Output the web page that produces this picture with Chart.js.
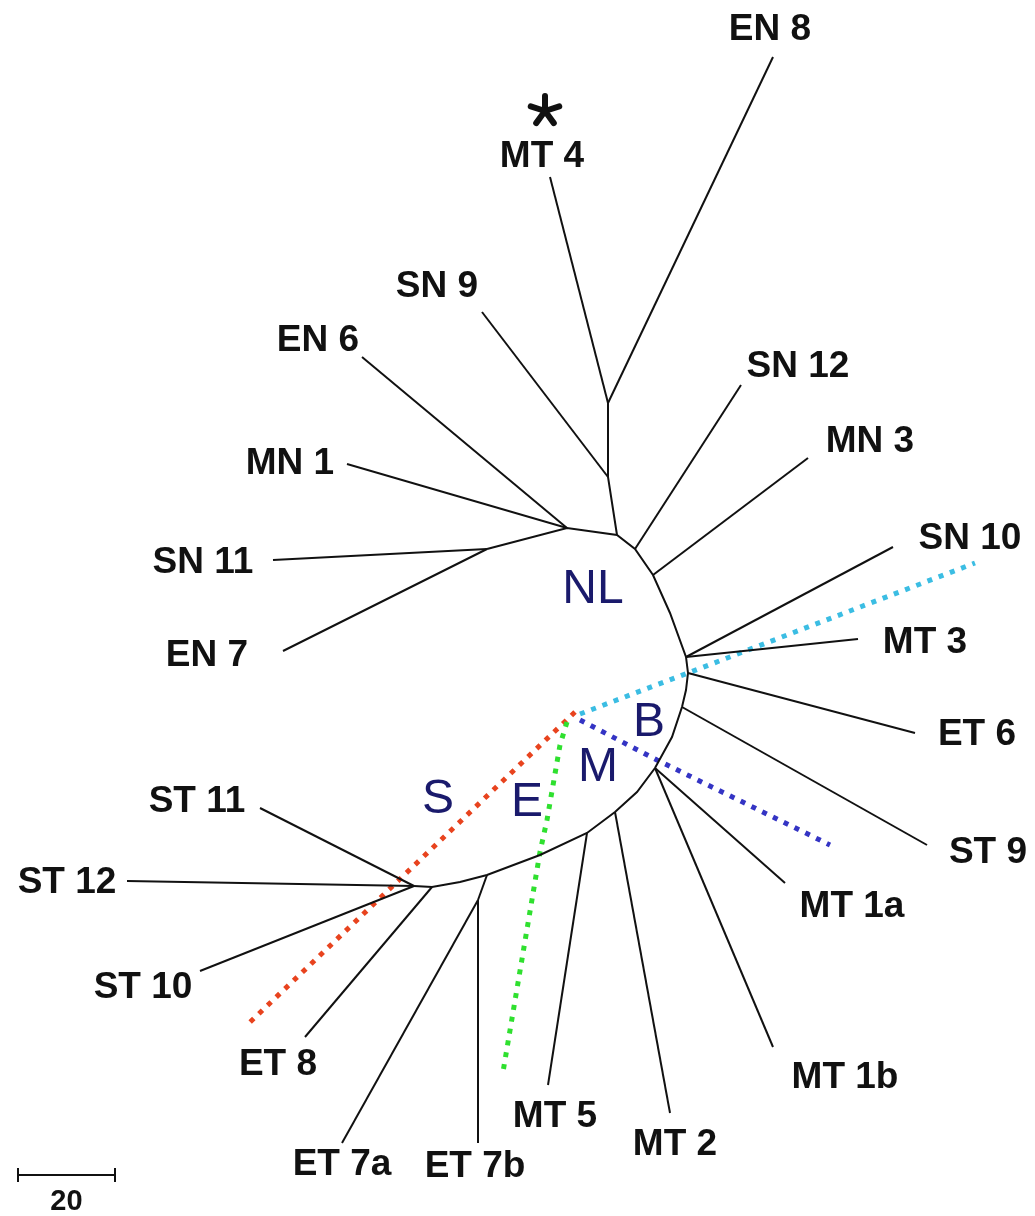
<!DOCTYPE html>
<html>
<head>
<meta charset="utf-8">
<script src="https://cdn.jsdelivr.net/npm/chart.js@4.4.0/dist/chart.umd.min.js"></script>
<style>
  html, body { margin: 0; padding: 0; background: #fff; }
  #wrap { width: 1035px; height: 1216px; }
</style>
</head>
<body>
<div id="wrap"><canvas id="tree" width="1035" height="1216"></canvas></div>
<script>
// tree layout (units of the original drawing, y grows downwards)
const innerNames = ['top', 'sn9n', 'a', 'l1', 'l2', 'sn12n', 'mn3n', 'b1', 'b2', 'b3', 'm1', 'm2', 'm3', 'e1', 'e2', 's1', 's2']
const innerX     = [608,   608,    617, 567,  487,  635,     653,    686,  688,  682,  655,  615,  587,  487,  478,  432,  414]
const innerY     = [403,   477,    535, 528,  549,  549,     575,    657,  673,  707,  768,  812,  833,  875,  900,  887,  886]

const leafNames  = ['EN 8', 'MT 4', 'SN 9', 'EN 6', 'MN 1', 'SN 11', 'EN 7', 'SN 12', 'MN 3', 'SN 10', 'MT 3', 'ET 6',
                    'ST 9', 'MT 1a', 'MT 1b', 'MT 2', 'MT 5', 'ET 7b', 'ET 7a', 'ET 8', 'ST 10', 'ST 12', 'ST 11']
const leafX      = [773,  550,  482,  362,  347,  273,  283,  741,  808,  893,  858,  915,
                    927,  785,  773,  670,  548,  478,  342,  305,  200,  127,  260]
const leafY      = [57,   177,  312,  357,  464,  560,  651,  385,  458,  547,  639,  733,
                    845,  883,  1047, 1113, 1085, 1143, 1143, 1037, 971,  881,  808]
const leafParent = ['top', 'top', 'sn9n', 'l1', 'l1', 'l2', 'l2', 'sn12n', 'mn3n', 'b1', 'b1', 'b2',
                    'b3', 'm1', 'm1', 'm2', 'm3', 'e2', 'e2', 's1', 's2', 's2', 's2']

// stem and curved backbone of the tree
const stemX = [617, 608, 608]
const stemY = [535, 477, 403]
const backboneX = [487, 567, 617, 635, 653, 670, 686, 688, 686, 682, 672, 655, 637, 615, 587, 540, 487, 460, 432, 414]
const backboneY = [549, 528, 535, 549, 575, 613, 657, 673, 690, 707, 737, 768, 792, 812, 833, 855, 875, 882, 887, 886]
const e1e2X = [487, 478]
const e1e2Y = [875, 900]

// clade separation lines
const cladeColors = ['#3bbde3', '#3434c4', '#2fe02f', '#e8431e']
const cyanX  = [580, 688, 975]
const cyanY  = [714, 673, 563]
const blueX  = [580, 657, 830]
const blueY  = [720, 760, 845]
const greenX = [567, 560, 547, 540, 503]
const greenY = [722, 745, 820, 852, 1072]
const redX   = [575, 247]
const redY   = [712, 1025]

const cladeNames = ['NL', 'B', 'M', 'E', 'S']
const cladeX     = [593, 649, 598, 527, 438]
const cladeY     = [590, 723, 768, 803, 800]

// scale bar: 20 units
const barX = [18, 115]
const barY = [1175, 1175]

// label placement (offset from tip, drawing units)
const labelDX = [-3, -8, -45, -44, -57, -70, -76, 57, 62, 77, 67, 62, 61, 67, 72, 5, 7, -3, 0, -27, -57, -60, -63]
const labelDY = [-27, -20, -25, -16, 0, 3, 5, -18, -16, -8, 4, 2, 8, 24, 31, 32, 32, 24, 22, 28, 17, 2, -6]

const nodeAt = {}
innerNames.forEach((n, i) => { nodeAt[n] = { x: innerX[i], y: innerY[i] } })

const toPts = (xs, ys) => xs.map((x, i) => ({ x, y: ys[i] }))

const lineDs = (data, color, width, dash) => ({
  data,
  showLine: true,
  borderColor: color,
  borderWidth: width,
  borderDash: dash || [],
  borderCapStyle: 'butt',
  pointRadius: 0,
  fill: false,
  tension: 0,
})

const datasets = []
datasets.push(lineDs(toPts(backboneX, backboneY), '#111', 2))
datasets.push(lineDs(toPts(stemX, stemY), '#111', 2))
datasets.push(lineDs(toPts(e1e2X, e1e2Y), '#111', 2))
leafNames.forEach((n, i) => {
  const p = nodeAt[leafParent[i]]
  datasets.push(lineDs([p, { x: leafX[i], y: leafY[i] }], '#111', 2))
})
datasets.push(lineDs(toPts(cyanX, cyanY), cladeColors[0], 5, [5, 7]))
datasets.push(lineDs(toPts(blueX, blueY), cladeColors[1], 5, [5, 7]))
datasets.push(lineDs(toPts(greenX, greenY), cladeColors[2], 5, [5, 7]))
datasets.push(lineDs(toPts(redX, redY), cladeColors[3], 5, [5, 7]))
datasets.push(lineDs(toPts(barX, barY), '#111', 2))
datasets.push(lineDs([{ x: barX[0], y: 1168 }, { x: barX[0], y: 1182 }], '#111', 2))
datasets.push(lineDs([{ x: barX[1], y: 1168 }, { x: barX[1], y: 1182 }], '#111', 2))

const textPlugin = {
  id: 'treeText',
  afterDatasetsDraw(chart) {
    const { ctx, scales: { x, y } } = chart
    ctx.save()
    ctx.textAlign = 'center'
    ctx.textBaseline = 'middle'

    ctx.fillStyle = '#111'
    ctx.font = 'bold 37px "Liberation Sans", Arial, sans-serif'
    leafNames.forEach((n, i) => {
      ctx.fillText(n, x.getPixelForValue(leafX[i] + labelDX[i]), y.getPixelForValue(leafY[i] + labelDY[i]))
    })

    ctx.fillStyle = '#1a1a6c'
    ctx.font = '48px "Liberation Sans", Arial, sans-serif'
    cladeNames.forEach((n, i) => {
      ctx.fillText(n, x.getPixelForValue(cladeX[i]), y.getPixelForValue(cladeY[i]))
    })

    ctx.fillStyle = '#111'
    ctx.font = 'bold 29px "Liberation Sans", Arial, sans-serif'
    ctx.fillText('20', x.getPixelForValue((barX[0] + barX[1]) / 2), y.getPixelForValue(1202))

    // asterisk marking MT 4
    const cx = x.getPixelForValue(545), cy = y.getPixelForValue(111)
    ctx.strokeStyle = '#111'
    ctx.lineWidth = 6
    ctx.lineCap = 'round'
    for (let k = 0; k < 5; k++) {
      const a = -Math.PI / 2 + k * 2 * Math.PI / 5
      ctx.beginPath()
      ctx.moveTo(cx, cy)
      ctx.lineTo(cx + Math.cos(a) * 15, cy + Math.sin(a) * 15)
      ctx.stroke()
    }
    ctx.restore()
  }
}

new Chart(document.getElementById('tree'), {
  type: 'scatter',
  data: { datasets },
  options: {
    responsive: false,
    animation: false,
    events: [],
    layout: { padding: 0 },
    plugins: {
      legend: { display: false },
      tooltip: { enabled: false },
    },
    scales: {
      x: { type: 'linear', min: 0, max: 1035, display: false },
      y: { type: 'linear', min: 0, max: 1216, reverse: true, display: false },
    },
  },
  plugins: [textPlugin],
})
</script>
</body>
</html>
